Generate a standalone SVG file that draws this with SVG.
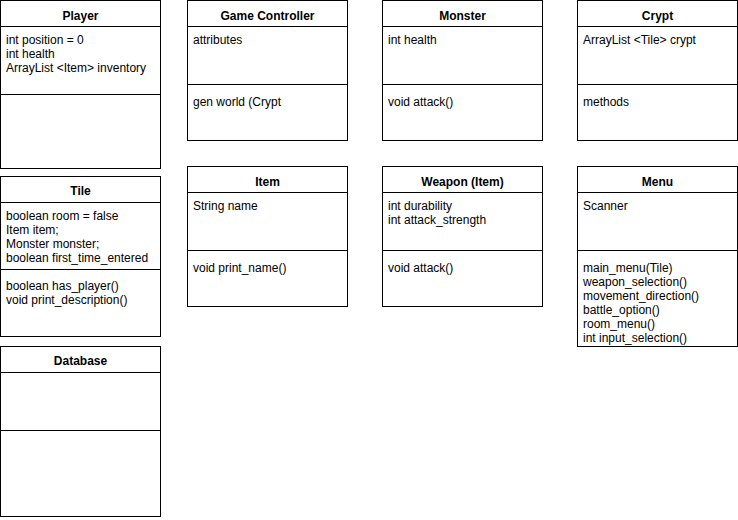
<svg xmlns="http://www.w3.org/2000/svg" width="738" height="520" viewBox="0 0 738 520">
<style>
rect{fill:#fff;stroke:#000;stroke-width:1}
line{stroke:#000;stroke-width:1}
text{font-family:"Liberation Sans",Arial,Helvetica,sans-serif;font-size:12px;fill:#000}
.t{font-weight:bold;text-anchor:middle}
</style>
<rect x="0" y="0" width="738" height="520" style="fill:#fff;stroke:none"/>
<g id="player">
<rect x="0.5" y="0.5" width="160" height="168"/>
<line x1="0.5" y1="26.5" x2="160.5" y2="26.5"/>
<line x1="0.5" y1="94.5" x2="160.5" y2="94.5"/>
<text class="t" x="80.5" y="19.5">Player</text>
<text x="6" y="44">int position = 0</text>
<text x="6" y="58">int health</text>
<text x="6" y="72">ArrayList &lt;Item&gt; inventory</text>
</g>
<g id="tile">
<rect x="0.5" y="176.5" width="160" height="160"/>
<line x1="0.5" y1="202.5" x2="160.5" y2="202.5"/>
<line x1="0.5" y1="269.5" x2="160.5" y2="269.5"/>
<text class="t" x="80.5" y="194.5">Tile</text>
<text x="6" y="220">boolean room = false</text>
<text x="6" y="234">Item item;</text>
<text x="6" y="248">Monster monster;</text>
<text x="6" y="262">boolean first_time_entered</text>
<text x="6" y="290">boolean has_player()</text>
<text x="6" y="304">void print_description()</text>
</g>
<g id="database">
<rect x="0.5" y="346.5" width="160" height="170"/>
<line x1="0.5" y1="372.5" x2="160.5" y2="372.5"/>
<line x1="0.5" y1="430.5" x2="160.5" y2="430.5"/>
<text class="t" x="80.5" y="364.5">Database</text>
</g>
<g id="gamecontroller">
<rect x="187.5" y="0.5" width="160" height="140"/>
<line x1="187.5" y1="26.5" x2="347.5" y2="26.5"/>
<line x1="187.5" y1="84.5" x2="347.5" y2="84.5"/>
<text class="t" x="267.5" y="19.5">Game Controller</text>
<text x="193" y="44">attributes</text>
<text x="193" y="105.5">gen world (Crypt</text>
</g>
<g id="monster">
<rect x="382.5" y="0.5" width="160" height="140"/>
<line x1="382.5" y1="26.5" x2="542.5" y2="26.5"/>
<line x1="382.5" y1="84.5" x2="542.5" y2="84.5"/>
<text class="t" x="462.5" y="19.5">Monster</text>
<text x="388" y="44">int health</text>
<text x="388" y="105.5">void attack()</text>
</g>
<g id="crypt">
<rect x="577.5" y="0.5" width="160" height="140"/>
<line x1="577.5" y1="26.5" x2="737.5" y2="26.5"/>
<line x1="577.5" y1="84.5" x2="737.5" y2="84.5"/>
<text class="t" x="657.5" y="19.5">Crypt</text>
<text x="583" y="44">ArrayList &lt;Tile&gt; crypt</text>
<text x="583" y="105.5">methods</text>
</g>
<g id="item">
<rect x="187.5" y="166.5" width="160" height="140"/>
<line x1="187.5" y1="192.5" x2="347.5" y2="192.5"/>
<line x1="187.5" y1="250.5" x2="347.5" y2="250.5"/>
<text class="t" x="267.5" y="185.5">Item</text>
<text x="193" y="210">String name</text>
<text x="193" y="271.5">void print_name()</text>
</g>
<g id="weapon">
<rect x="382.5" y="166.5" width="160" height="140"/>
<line x1="382.5" y1="192.5" x2="542.5" y2="192.5"/>
<line x1="382.5" y1="250.5" x2="542.5" y2="250.5"/>
<text class="t" x="462.5" y="185.5">Weapon (Item)</text>
<text x="388" y="210">int durability</text>
<text x="388" y="224">int attack_strength</text>
<text x="388" y="271.5">void attack()</text>
</g>
<g id="menu">
<rect x="577.5" y="166.5" width="160" height="180"/>
<line x1="577.5" y1="192.5" x2="737.5" y2="192.5"/>
<line x1="577.5" y1="250.5" x2="737.5" y2="250.5"/>
<text class="t" x="657.5" y="185.5">Menu</text>
<text x="583" y="210">Scanner</text>
<text x="583" y="271.5">main_menu(Tile)</text>
<text x="583" y="285.5">weapon_selection()</text>
<text x="583" y="299.5">movement_direction()</text>
<text x="583" y="313.5">battle_option()</text>
<text x="583" y="327.5">room_menu()</text>
<text x="583" y="341.5">int input_selection()</text>
</g>
<g id="connectors"></g>
</svg>
